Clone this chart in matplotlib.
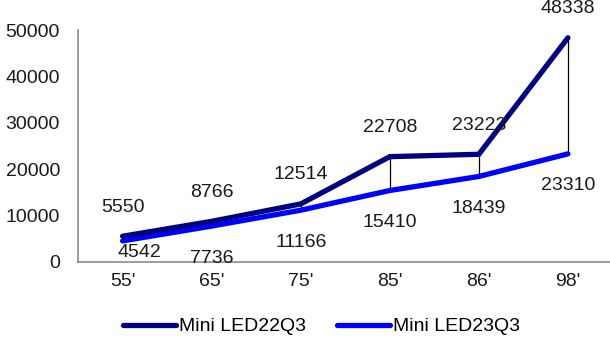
import matplotlib
matplotlib.use("Agg")
import matplotlib.pyplot as plt

plt.rcParams['font.family'] = ['Liberation Sans', 'DejaVu Sans']

categories = ["55'", "65'", "75'", "85'", "86'", "98'"]
mini_led_22q3 = [5550, 8766, 12514, 22708, 23223, 48338]
mini_led_23q3 = [4542, 7736, 11166, 15410, 18439, 23310]
y_ticks = [0, 10000, 20000, 30000, 40000, 50000]

fig = plt.figure(figsize=(6.10, 3.42), dpi=100)
ax = fig.add_axes([0.128, 0.234, 0.876, 0.678])

x = list(range(len(categories)))

# high-low connectors between the two series
for xi, hi, lo in zip(x, mini_led_22q3, mini_led_23q3):
    ax.plot([xi, xi], [lo, hi], color='black', lw=0.9, zorder=1)

ax.plot(x, mini_led_22q3, color='#000080', lw=3.8, solid_capstyle='round',
        solid_joinstyle='miter', label='Mini LED22Q3', zorder=3)
ax.plot(x, mini_led_23q3, color='#0000FF', lw=3.8, solid_capstyle='round',
        solid_joinstyle='miter', label='Mini LED23Q3', zorder=2)

fs = 14
for xi, v in zip(x, mini_led_22q3):
    ax.annotate(f"{v}", (xi, v), xytext=(0, 29), textcoords='offset pixels',
                ha='center', va='center', fontsize=fs, color='#1a1a1a',
                annotation_clip=False)
for i, (xi, v) in enumerate(zip(x, mini_led_23q3)):
    off = (17, -12) if i == 0 else (0, -32)
    ax.annotate(f"{v}", (xi, v), xytext=off, textcoords='offset pixels',
                ha='center', va='center', fontsize=fs, color='#1a1a1a',
                annotation_clip=False)

ax.set_xlim(-0.5, len(categories) - 0.5)
ax.set_ylim(0, 50000)
ax.set_xticks(x)
ax.set_xticklabels(categories, fontsize=fs)
ax.set_yticks(y_ticks)
ax.set_yticklabels([str(t) for t in y_ticks], fontsize=fs)
ax.tick_params(axis='both', length=0, colors='#1a1a1a')
ax.tick_params(axis='y', pad=13)
ax.tick_params(axis='x', pad=8)

for side in ('top', 'right'):
    ax.spines[side].set_visible(False)
for side in ('left', 'bottom'):
    ax.spines[side].set_color('#8c8c8c')
    ax.spines[side].set_linewidth(1.2)

fig.legend(loc='center', bbox_to_anchor=(0.527, 0.045), ncol=2, frameon=False,
           fontsize=fs, handlelength=2.75, handletextpad=0.15, columnspacing=1.6)

fig.savefig('out.png', dpi=100)
